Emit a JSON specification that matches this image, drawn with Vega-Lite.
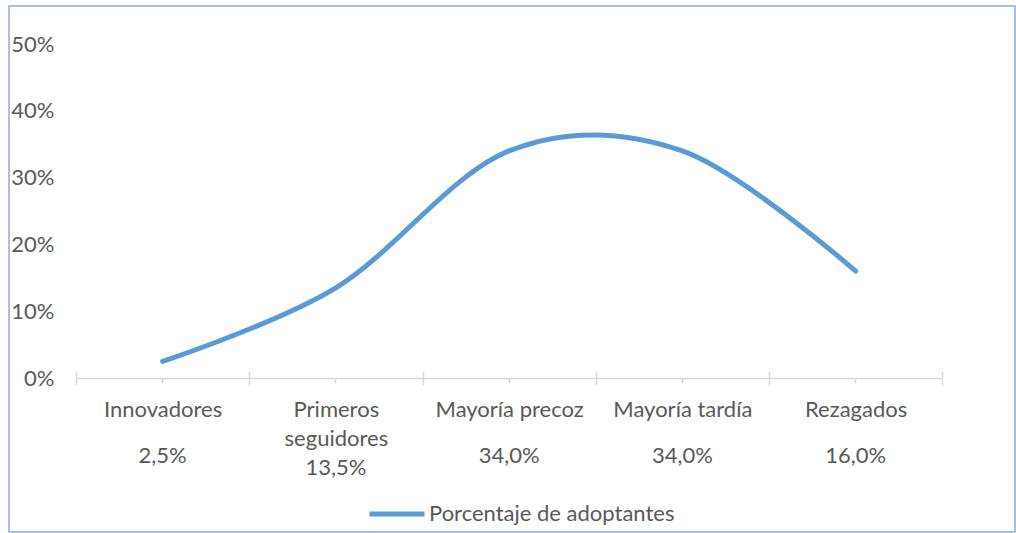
{
  "$schema": "https://vega.github.io/schema/vega-lite/v6.json",
  "width": 1006,
  "height": 526,
  "autosize": {"type": "none"},
  "padding": {"left": 9, "top": 6, "right": 1, "bottom": 1},
  "background": "white",
  "config": {
    "font": "Lato",
    "view": {"stroke": "#8FAADC", "strokeWidth": 1.5},
    "axis": {"grid": false}
  },
  "data": {
    "values": [
      {"categoria": "Innovadores|2,5%", "porcentaje": 0.025, "serie": "Porcentaje de adoptantes"},
      {"categoria": "Primeros|seguidores|13,5%", "porcentaje": 0.135, "serie": "Porcentaje de adoptantes"},
      {"categoria": "Mayoría precoz|34,0%", "porcentaje": 0.34, "serie": "Porcentaje de adoptantes"},
      {"categoria": "Mayoría tardía|34,0%", "porcentaje": 0.34, "serie": "Porcentaje de adoptantes"},
      {"categoria": "Rezagados|16,0%", "porcentaje": 0.16, "serie": "Porcentaje de adoptantes"}
    ]
  },
  "layer": [
    {
      "mark": {"type": "line", "interpolate": "cardinal", "strokeWidth": 5, "strokeCap": "round", "strokeJoin": "round"},
      "encoding": {
        "x": {
          "field": "categoria", "type": "nominal", "sort": null, "bandPosition": 0.5,
          "scale": {"type": "band", "range": [67, 933.25], "paddingInner": 0, "paddingOuter": 0},
          "axis": {
            "orient": "bottom", "offset": -154, "title": null, "labelAngle": 0,
            "tickBand": "extent", "tickSize": 7, "tickColor": "#D9D9D9", "tickWidth": 1.5,
            "domainColor": "#D9D9D9", "domainWidth": 1.5,
            "labelExpr": "slice(split(datum.label, '|'), 0, -1)", "labelFontSize": 22, "labelColor": "#595959",
            "labelPadding": 14, "labelLineHeight": 29, "labelBaseline": "top", "labelOverlap": false, "labelLimit": 300
          }
        },
        "y": {
          "field": "porcentaje", "type": "quantitative",
          "scale": {"domain": [-0.2305, 0.5569], "zero": false, "nice": false},
          "axis": {
            "orient": "left", "offset": 0, "title": null, "domain": false, "ticks": false,
            "values": [0, 0.1, 0.2, 0.3, 0.4, 0.5], "format": ".0%",
            "labelFontSize": 22, "labelColor": "#595959", "labelPadding": -45, "labelOverlap": false
          }
        },
        "color": {
          "field": "serie", "type": "nominal",
          "scale": {"range": ["#5B9BD5"]},
          "legend": {
            "title": null, "orient": "none", "legendX": 358, "legendY": 478, "padding": 0,
            "symbolType": "stroke", "symbolSize": 3025, "symbolStrokeWidth": 5,
            "labelFontSize": 22, "labelColor": "#595959", "labelOffset": 2, "labelLimit": 400
          }
        }
      }
    },
    {
      "mark": {"type": "point", "opacity": 0},
      "encoding": {
        "x": {
          "field": "categoria", "type": "nominal", "sort": null, "bandPosition": 0.5,
          "scale": {"type": "band", "range": [67, 933.25], "paddingInner": 0, "paddingOuter": 0},
          "axis": {
            "orient": "bottom", "offset": -154, "title": null, "labels": false, "domain": false,
            "tickBand": "extent", "tickSize": -7, "tickColor": "#D9D9D9", "tickWidth": 1.5
          }
        }
      }
    },
    {
      "mark": {"type": "point", "opacity": 0},
      "encoding": {
        "x": {
          "field": "categoria", "type": "nominal", "sort": null, "bandPosition": 0.5,
          "scale": {"type": "band", "range": [67, 933.25], "paddingInner": 0, "paddingOuter": 0},
          "axis": {
            "orient": "bottom", "offset": -154, "title": null, "domain": false,
            "tickSize": 5, "tickColor": "#D9D9D9", "tickWidth": 1.5,
            "labelExpr": "peek(split(datum.label, '|'))", "labelFontSize": 22, "labelColor": "#595959",
            "labelAngle": 0, "labelBaseline": "top", "labelOverlap": false,
            "labelPadding": {"condition": {"test": "length(split(datum.value, '|')) > 2", "value": 74}, "value": 62}
          }
        }
      }
    }
  ],
  "resolve": {"axis": {"x": "independent"}}
}
